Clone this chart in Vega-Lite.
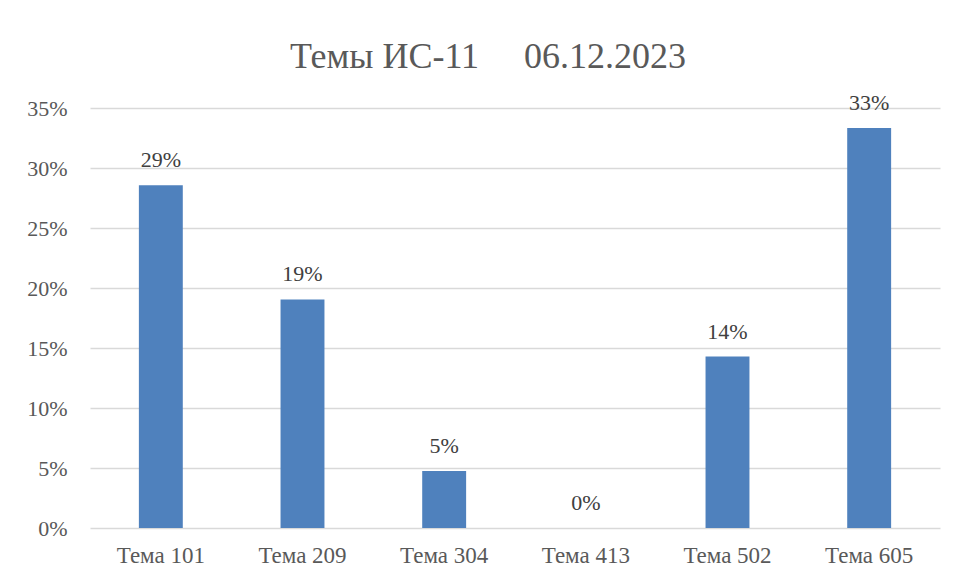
{
  "$schema": "https://vega.github.io/schema/vega-lite/v6.json",
  "width": 850,
  "height": 420,
  "autosize": {"type": "none"},
  "padding": {"left": 90, "top": 108, "right": 14, "bottom": 51},
  "background": "white",
  "title": {
    "text": "Темы ИС-11\u00a0\u00a0\u00a0\u00a0\u00a006.12.2023",
    "font": "Liberation Serif",
    "fontSize": 36,
    "fontWeight": "normal",
    "color": "#595959",
    "anchor": "middle",
    "dx": -27,
    "dy": 54,
    "baseline": "alphabetic",
    "offset": 42
  },
  "data": {
    "values": [
      {"topic": "Тема 101", "share": 0.2857},
      {"topic": "Тема 209", "share": 0.1905},
      {"topic": "Тема 304", "share": 0.0476},
      {"topic": "Тема 413", "share": 0},
      {"topic": "Тема 502", "share": 0.1429},
      {"topic": "Тема 605", "share": 0.3333}
    ]
  },
  "encoding": {
    "x": {
      "field": "topic",
      "type": "nominal",
      "sort": null,
      "scale": {"paddingInner": 0.69, "paddingOuter": 0.345},
      "axis": {
        "title": null,
        "labelAngle": 0,
        "labelFont": "Liberation Serif",
        "labelFontSize": 23,
        "labelColor": "#595959",
        "labelPadding": 16,
        "ticks": false,
        "domain": false
      }
    },
    "y": {
      "field": "share",
      "type": "quantitative",
      "scale": {"domain": [0, 0.35], "nice": false},
      "axis": {
        "title": null,
        "format": ".0%",
        "values": [0, 0.05, 0.1, 0.15, 0.2, 0.25, 0.3, 0.35],
        "labelFont": "Liberation Serif",
        "labelFontSize": 22,
        "labelColor": "#595959",
        "labelPadding": 23,
        "ticks": false,
        "domain": false,
        "gridColor": "#d9d9d9",
        "gridWidth": 1.5
      }
    }
  },
  "layer": [
    {"mark": {"type": "bar", "color": "#4f81bd"}},
    {
      "mark": {
        "type": "text",
        "baseline": "alphabetic",
        "dy": -18,
        "font": "Liberation Serif",
        "fontSize": 22,
        "color": "#404040"
      },
      "encoding": {"text": {"field": "share", "type": "quantitative", "format": ".0%"}}
    }
  ],
  "config": {"view": {"stroke": null}}
}
